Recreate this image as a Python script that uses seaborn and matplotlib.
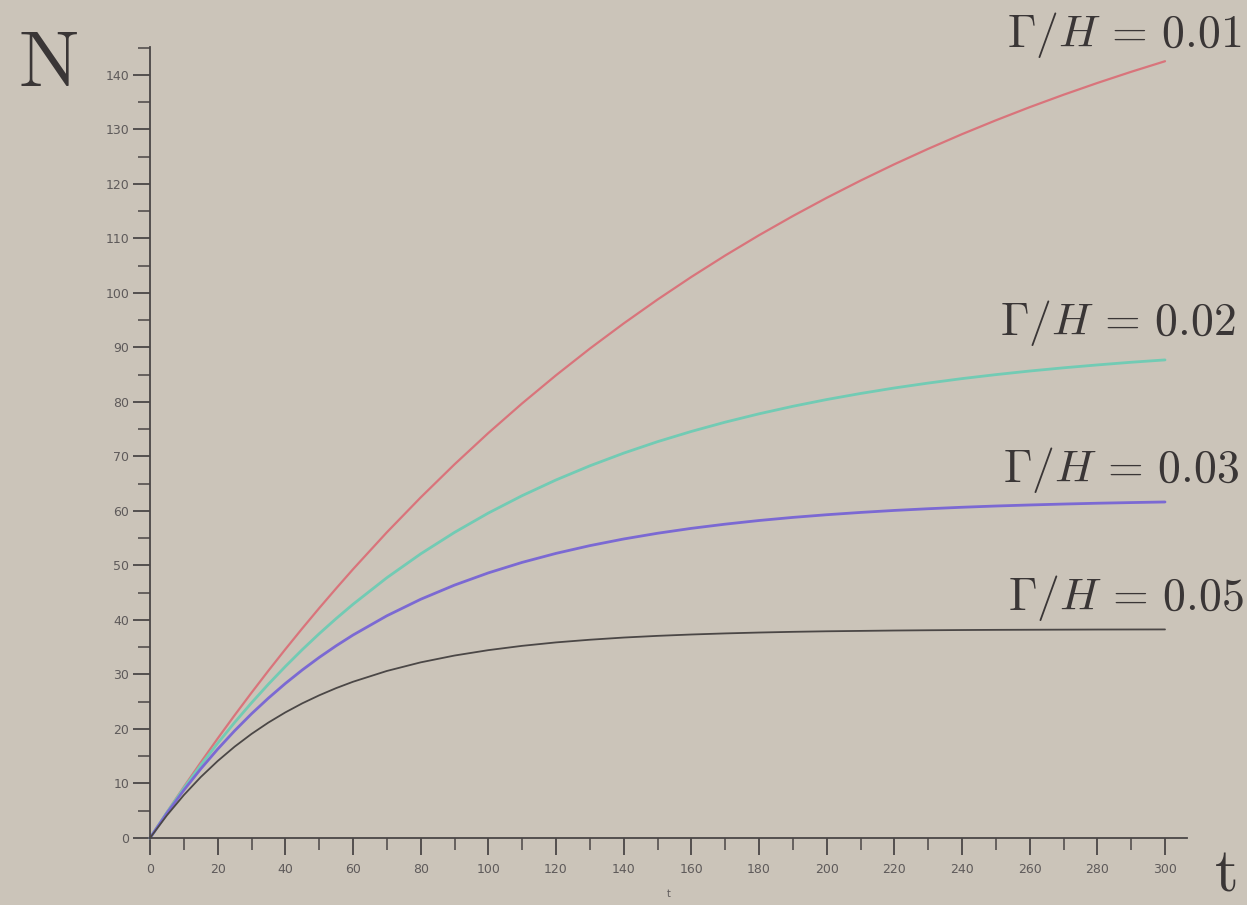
import numpy as np
import pandas as pd
import matplotlib
matplotlib.use("Agg")
import matplotlib.pyplot as plt
import seaborn as sns

# ---- data ----
t_values = [0, 5, 10, 15, 20, 25, 30, 35, 40, 45, 50, 55, 60, 70, 80, 90, 100,
            110, 120, 130, 140, 150, 160, 170, 180, 190, 200, 210, 220, 230, 240,
            250, 260, 270, 280, 290, 300]

n_001 = [0, 4.75, 9.37, 13.87, 18.25, 22.51, 26.65, 30.69, 34.62, 38.44, 42.16, 45.77,
         49.30, 56.07, 62.47, 68.54, 74.29,
         79.73, 84.88, 89.77, 94.39, 98.77, 102.92, 106.85, 110.57, 114.09, 117.43,
         120.59, 123.59, 126.42, 129.11, 131.65, 134.06, 136.34, 138.50, 140.55, 142.49]
n_002 = [0, 4.69, 9.15, 13.37, 17.38, 21.19, 24.79, 28.22, 31.46, 34.55, 37.47, 40.24,
         42.87, 47.74, 52.12, 56.06, 59.61,
         62.80, 65.68, 68.27, 70.60, 72.70, 74.58, 76.28, 77.81, 79.19, 80.43,
         81.54, 82.55, 83.45, 84.27, 85.00, 85.66, 86.25, 86.78, 87.27, 87.70]
n_003 = [0, 4.55, 8.77, 12.68, 16.30, 19.66, 22.78, 25.66, 28.34, 30.82, 33.12, 35.25,
         37.23, 40.76, 43.79, 46.39, 48.63,
         50.56, 52.21, 53.63, 54.85, 55.90, 56.80, 57.57, 58.24, 58.81, 59.30,
         59.72, 60.09, 60.40, 60.67, 60.90, 61.09, 61.26, 61.41, 61.53, 61.64]
n_005 = [0, 4.16, 7.87, 11.18, 14.12, 16.75, 19.09, 21.18, 23.04, 24.70, 26.17, 27.49,
         28.66, 30.64, 32.22, 33.47, 34.46,
         35.25, 35.88, 36.37, 36.77, 37.08, 37.33, 37.53, 37.69, 37.82, 37.92,
         37.99, 38.06, 38.11, 38.15, 38.18, 38.20, 38.22, 38.24, 38.25, 38.26]

series_names = ["0.01", "0.02", "0.03", "0.05"]
series_values = [n_001, n_002, n_003, n_005]
series_colors = ["#d9747b", "#72cbb4", "#7b69d3", "#4b4746"]
series_widths = [1.6, 2.0, 2.0, 1.3]

x_ticks = list(range(0, 301, 20))
y_ticks = list(range(0, 141, 10))

# label anchor positions (data coords: t, N baseline)
label_pos = {"0.01": (253.3, 145.1), "0.02": (251.3, 92.3),
             "0.03": (252.1, 65.3), "0.05": (253.6, 41.8)}

df = pd.concat([pd.DataFrame({"t": t_values, "N": v, "ratio": name})
                for name, v in zip(series_names, series_values)], ignore_index=True)

sns.set_theme(style="ticks")
bg = "#cbc4b9"
axis_col = "#4a4646"
plt.rcParams["mathtext.fontset"] = "cm"
plt.rcParams["font.family"] = ["DejaVu Sans"]

fig = plt.figure(figsize=(12.47, 9.05), dpi=100, facecolor=bg)
ax = fig.add_axes([150 / 1247, 1 - 838 / 905, (1187 - 150) / 1247, (838 - 47) / 905])
ax.set_facecolor(bg)

palette = dict(zip(series_names, series_colors))
for name, lw in zip(series_names, series_widths):
    sns.lineplot(data=df[df["ratio"] == name], x="t", y="N", color=palette[name],
                 linewidth=lw, ax=ax, legend=False, clip_on=False)

ax.set_xlim(0, 306.5)
ax.set_ylim(0, 145.1)
ax.set_xticks(x_ticks)
ax.set_yticks(y_ticks)
ax.set_xticks(list(range(10, 301, 20)), minor=True)
ax.set_yticks([v + 5 for v in y_ticks], minor=True)

for s in ["top", "right"]:
    ax.spines[s].set_visible(False)
for s in ["left", "bottom"]:
    ax.spines[s].set_color(axis_col)
    ax.spines[s].set_linewidth(1.3)

ax.tick_params(which="major", direction="out", length=12, width=1.3, color=axis_col,
               labelsize=9, labelcolor="#5e5a5a")
ax.tick_params(which="minor", direction="out", length=8.5, width=1.1, color=axis_col)
ax.tick_params(axis="x", which="major", pad=6)
ax.tick_params(axis="y", which="major", pad=3)

ax.set_xlabel("t", fontsize=7, color="#5e5a5a", labelpad=9)
ax.set_ylabel("")

for name in series_names:
    x0, y0 = label_pos[name]
    ax.text(x0, y0, r"$\Gamma/H\,=\,%s$" % name, fontsize=33, color="#3a3636",
            ha="left", va="baseline", clip_on=False)

fig.text(48 / 1247, 1 - 64 / 905, r"$\mathrm{N}$", fontsize=58, color="#3a3636",
         ha="center", va="center")
fig.text(1225 / 1247, 1 - 903 / 905, r"$\mathrm{t}$", fontsize=44, color="#3a3636",
         ha="center", va="bottom")

fig.savefig("out.png", dpi=100, facecolor=bg)
